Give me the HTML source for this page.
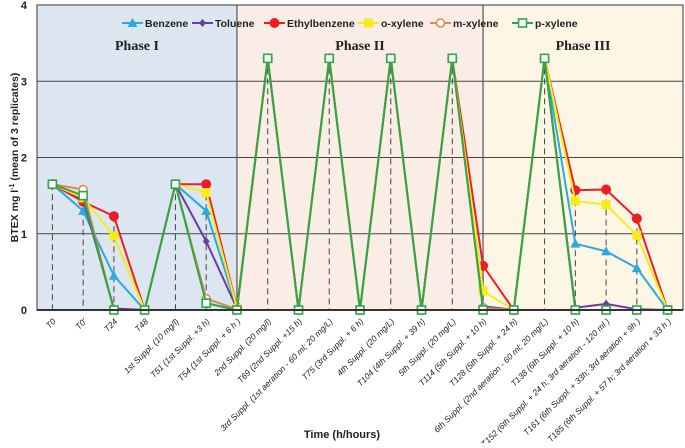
<!DOCTYPE html>
<html><head><meta charset="utf-8"><style>
body{margin:0;background:#fff;font-family:"Liberation Sans",Arial,sans-serif}
</style></head><body>
<svg id="c" width="685" height="443" xmlns="http://www.w3.org/2000/svg"></svg>
<script>
const categories=["T0","T0'","T24","T48","1st Suppl. (10 mg/l)","T51 (1st Suppl. +3 h)","T54 (1st Suppl. + 6 h )","2nd Suppl. (20 mg/l)","T69 (2nd Suppl. +15 h)","3rd Suppl. (1st aeration - 60 ml; 20 mg/L)","T75 (3rd Suppl. + 6 h)","4th Suppl. (20 mg/L)","T104 (4th Suppl. + 39 h)","5th Suppl. (20 mg/L)","T114 (5th Suppl. + 10 h)","T128 (5th Suppl. + 24 h)","6th Suppl. (2nd aeration - 60 ml; 20 mg/L)","T138 (6th Suppl. + 10 h)","T152 (6th Suppl. + 24 h; 3rd aeration - 120 ml )","T161 (6th Suppl. + 33h; 3rd aeration + 9h )","T185 (6th Suppl. + 57 h; 3rd aeration + 33 h )"];
const benzene=[1.65,1.3,0.45,0,1.65,1.3,0.02,3.3,0,3.3,0,3.3,0,3.3,0.05,0,3.3,0.87,0.77,0.55,0];
const toluene=[1.65,1.45,0.02,0,1.65,0.9,0.02,3.3,0,3.3,0,3.3,0,3.3,0.05,0,3.3,0.03,0.08,0.01,0];
const ethylbenzene=[1.65,1.42,1.23,0,1.65,1.65,0.03,3.3,0,3.3,0,3.3,0,3.3,0.58,0,3.3,1.57,1.58,1.2,0];
const oxylene=[1.65,1.47,0.97,0,1.65,1.54,0.02,3.3,0,3.3,0,3.3,0,3.3,0.25,0,3.3,1.43,1.38,0.98,0];
const mxylene=[1.65,1.58,0,0,1.65,0.15,0.01,3.3,0,3.3,0,3.3,0,3.3,0.03,0,3.3,0,0,0,0];
const pxylene=[1.65,1.5,0,0,1.65,0.09,0,3.3,0,3.3,0,3.3,0,3.3,0,0,3.3,0,0,0,0];
const yTicks=[0,1,2,3,4];
const phaseNames=["Phase I","Phase II","Phase III"];
const phaseEnds=[6,14];

const L=37,R=683,T=5,B=310;
const step=(R-L)/categories.length;
const x=i=>L+step*(i+0.5);
const y=v=>B-(v/4)*(B-T);
const svg=document.getElementById('c');
const NS='http://www.w3.org/2000/svg';
function mk(tag,attrs,parent){const e=document.createElementNS(NS,tag);for(const k in attrs)e.setAttribute(k,attrs[k]);(parent||svg).appendChild(e);return e;}

const xb1=x(phaseEnds[0]),xb2=x(phaseEnds[1]);
let r=mk('rect',{x:L,y:T,width:xb1-L,height:B-T,fill:'#dce6f1'});


r=mk('rect',{x:xb1,y:T,width:xb2-xb1,height:B-T,fill:'#f9ede6'});


r=mk('rect',{x:xb2,y:T,width:R-xb2,height:B-T,fill:'#fdf6e4'});



yTicks.forEach(t=>{
  if(t>0&&t<4){const g=mk('line',{x1:L,x2:R,y1:y(t),y2:y(t),stroke:'#444','stroke-width':1});
  
  }
  const tl=mk('text',{x:L-10,y:y(t)+4,'text-anchor':'end','font-size':11,'font-weight':'bold',fill:'#222'});
  tl.textContent=t;
  
  
});
[xb1,xb2].forEach(xv=>{const d=mk('line',{x1:xv,x2:xv,y1:T,y2:B,stroke:'#555','stroke-width':1.2});

});

const series=[
 {name:'Benzene',d:benzene,c:'#2aaae0',m:'tri'},
 {name:'Toluene',d:toluene,c:'#6b3fa0',m:'dia'},
 {name:'Ethylbenzene',d:ethylbenzene,c:'#ee1c25',m:'circ'},
 {name:'o-xylene',d:oxylene,c:'#f3ee1a',m:'sq'},
 {name:'m-xylene',d:mxylene,c:'#e0874a',m:'ocirc'},
 {name:'p-xylene',d:pxylene,c:'#2ea64a',m:'osq'}];

categories.forEach((c,i)=>{
  const mx=Math.max(...series.map(s=>s.d[i]));
  if(mx>0.05){const d=mk('line',{x1:x(i),x2:x(i),y1:y(mx),y2:B,stroke:'#444','stroke-width':1,'stroke-dasharray':'6,4'});
  
  }
});

function marker(m,cx,cy,c,g){
  let e;
  if(m==='tri')e=mk('polygon',{points:`${cx},${cy-5} ${cx-5},${cy+4} ${cx+5},${cy+4}`,fill:c},g);
  else if(m==='dia')e=mk('polygon',{points:`${cx},${cy-4} ${cx+3.5},${cy} ${cx},${cy+4} ${cx-3.5},${cy}`,fill:c},g);
  else if(m==='circ')e=mk('circle',{cx,cy,r:5,fill:c},g);
  else if(m==='sq')e=mk('rect',{x:cx-4.5,y:cy-4.5,width:9,height:9,fill:c},g);
  else if(m==='ocirc')e=mk('circle',{cx,cy,r:4,fill:'#fff',stroke:c,'stroke-width':1.5},g);
  else e=mk('rect',{x:cx-4,y:cy-4,width:8,height:8,fill:'#fff',stroke:c,'stroke-width':1.6},g);
  return e;
}

series.forEach(s=>{
  const g=mk('g',{});
  
  
  const pl=mk('polyline',{points:s.d.map((v,i)=>x(i)+','+y(v)).join(' '),fill:'none',stroke:s.c,'stroke-width':2},g);
  
  
  s.d.forEach((v,i)=>{const e=marker(s.m,x(i),y(v),s.c,g);
  
  });
});

let f=mk('rect',{x:L,y:T,width:R-L,height:B-T,fill:'none',stroke:'#555','stroke-width':1.2});


f=mk('line',{x1:L,x2:R,y1:B,y2:B,stroke:'#333','stroke-width':2});



categories.forEach((c,i)=>{
  const t=mk('text',{x:0,y:0,'text-anchor':'end','font-size':8.5,'font-style':'italic',fill:'#222',transform:`translate(${x(i)+4},${B+12}) rotate(-45)`});
  t.textContent=c;
  
  
});

const px=[(L+xb1)/2,(xb1+xb2)/2,(xb2+R)/2];
phaseNames.forEach((p,i)=>{
  const t=mk('text',{x:px[i],y:50,'text-anchor':'middle','font-size':14,'font-weight':'bold','font-family':'Liberation Serif,serif',fill:'#222'});
  t.textContent=p;
  
  
});

const lx=[122,192,264,358,430,512];
series.forEach((s,i)=>{
  const g=mk('g',{});
  
  
  mk('line',{x1:lx[i],x2:lx[i]+21,y1:23,y2:23,stroke:s.c,'stroke-width':2},g);
  marker(s.m,lx[i]+10.5,23,s.c,g);
  const t=mk('text',{x:lx[i]+23,y:27,'font-size':10.5,'font-weight':'bold',fill:'#222'},g);
  t.textContent=s.name;
});

let t=mk('text',{x:0,y:0,'text-anchor':'middle','font-size':10.5,'font-weight':'bold',fill:'#222',transform:`translate(18,${(T+B)/2}) rotate(-90)`});
t.innerHTML='BTEX mg l<tspan dy="-4" font-size="7">-1</tspan><tspan dy="4"> (mean of 3 replicates)</tspan>';


t=mk('text',{x:342,y:438,'text-anchor':'middle','font-size':11,'font-weight':'bold',fill:'#222'});
t.textContent='Time (h/hours)';


</script>
</body></html>
